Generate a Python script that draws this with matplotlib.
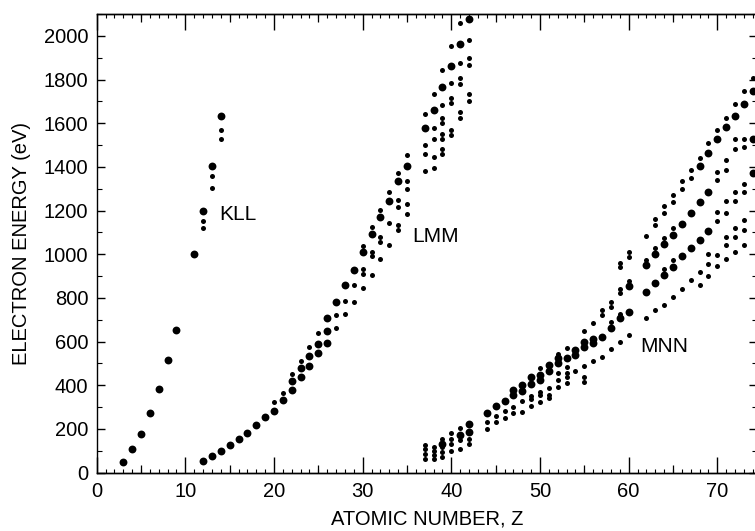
import matplotlib
matplotlib.use("Agg")
import matplotlib.pyplot as plt
from matplotlib.ticker import MultipleLocator

plt.rcParams['font.family'] = ['Liberation Sans', 'DejaVu Sans']

# KLL transitions
kll_big_z = [3, 4, 5, 6, 7, 8, 9, 11, 12, 13, 14]
kll_big_e = [49, 107, 177, 273, 384, 517, 653, 1000, 1198, 1405, 1631]
kll_small_z = [12, 12, 13, 13, 14, 14]
kll_small_e = [1151, 1119, 1357, 1304, 1571, 1530]

# LMM transitions
lmm_big_z = [12, 13, 14, 15, 16, 17, 18, 19, 20, 21,
             22, 22, 23, 23, 24, 24, 25, 25, 26, 26, 26,
             27, 28, 29, 30, 31, 32, 33, 34, 35, 37, 38, 39, 40, 41, 42]
lmm_big_e = [53, 76, 98, 128, 153, 183, 217, 255, 284, 334,
             378, 420, 440, 481, 488, 534, 546, 588, 595, 650, 709,
             780, 858, 926, 1009, 1093, 1172, 1245, 1334, 1405, 1576, 1660, 1765, 1863, 1962, 2076]
lmm_small_z = [20, 21, 22, 23, 24, 25,
               27, 27, 28, 28, 29, 29,
               30, 30, 30, 30, 31, 31, 31, 31, 32, 32, 32, 32,
               33, 33, 33, 34, 34, 34, 34, 34, 35, 35, 35, 35, 35,
               37, 37, 37, 37, 38, 38, 38, 38, 38,
               39, 39, 39, 39, 39, 39, 39, 39,
               40, 40, 40, 40, 40, 40, 41, 41, 41, 41, 41, 41,
               42, 42, 42, 42, 42]
lmm_small_e = [322, 366, 451, 511, 577, 639,
               722, 662, 784, 726, 858, 781,
               1038, 934, 910, 845, 1124, 1010, 991, 907, 1201, 1078, 1058, 979,
               1285, 1144, 1044, 1372, 1249, 1216, 1132, 1109, 1453, 1334, 1300, 1228, 1184,
               1642, 1500, 1457, 1380, 1732, 1579, 1530, 1446, 1393,
               1842, 1683, 1622, 1599, 1553, 1530, 1481, 1460,
               1953, 1785, 1716, 1691, 1568, 1545, 2057, 1878, 1808, 1782, 1652, 1625,
               1983, 1901, 1866, 1733, 1704]

# MNN transitions
mnn_big_z = [39, 41, 42, 42, 44, 45, 46, 47, 47, 48, 48, 49, 49, 50, 50, 51, 51,
             52, 52, 53, 54, 54, 55, 55, 56, 56, 57, 58, 59, 60, 60,
             62, 62, 63, 63, 64, 64, 65, 65, 66, 66, 67, 67,
             68, 68, 68, 69, 69, 69, 70, 71, 72, 73, 74, 74, 74]
mnn_big_e = [130, 173, 223, 188, 272, 307, 330, 379, 356, 401, 374, 437, 406, 447, 424, 493, 465,
             523, 500, 523, 562, 539, 600, 577, 610, 595, 622, 664, 706, 854, 737,
             950, 826, 1001, 867, 1045, 905, 1088, 943, 1138, 992, 1187, 1027,
             1404, 1240, 1065, 1462, 1286, 1108, 1527, 1581, 1632, 1690, 1747, 1526, 1370]
mnn_small_z = [37, 37, 37, 37, 38, 38, 38, 38, 39, 39, 39, 39, 40, 40, 40, 40,
               41, 41, 41, 42, 42, 44, 44, 45, 45, 46, 46, 47, 47, 48, 48,
               49, 49, 49, 50, 50, 50, 50, 51, 51, 51,
               52, 52, 52, 52, 53, 53, 53, 53, 53, 54,
               55, 55, 55, 55, 56, 56, 57, 57, 57, 58, 58, 58, 58,
               59, 59, 59, 59, 59, 59, 60, 60, 60, 60,
               62, 62, 62, 63, 63, 63, 63, 64, 64, 64, 64, 64,
               65, 65, 65, 65, 65, 66, 66, 66, 67, 67, 67, 68, 68, 68,
               69, 69, 69, 69, 70, 70, 70, 70, 70, 70, 70,
               71, 71, 71, 71, 71, 71, 71, 71,
               72, 72, 72, 72, 72, 72, 72, 72,
               73, 73, 73, 73, 73, 73, 73, 73, 74]
mnn_small_e = [125, 106, 86, 64, 116, 101, 81, 63, 154, 116, 96, 73, 183, 154, 130, 101,
               203, 150, 107, 154, 130, 233, 200, 260, 231, 282, 249, 302, 272, 330, 279,
               351, 336, 305, 481, 368, 354, 325, 386, 356, 340,
               543, 455, 424, 394, 569, 485, 455, 439, 410, 467,
               650, 488, 439, 417, 687, 513, 745, 722, 531, 783, 760, 691, 565,
               961, 943, 839, 823, 726, 600, 1011, 989, 879, 630,
               1085, 973, 709, 1160, 1134, 1027, 745, 1221, 1187, 1073, 931, 768,
               1271, 1240, 1118, 973, 803, 1336, 1297, 839, 1385, 1347, 882, 1442, 920, 859,
               1510, 1000, 955, 900, 1568, 1378, 1340, 1195, 1153, 996, 947,
               1626, 1431, 1385, 1245, 1187, 1080, 1042, 977,
               1690, 1526, 1480, 1286, 1245, 1118, 1080, 1011,
               1748, 1526, 1489, 1324, 1283, 1157, 1111, 1042, 1805]

big_size = 32
small_size = 13

fig = plt.figure(figsize=(7.55, 5.31), dpi=100)
# right edge sits just past the figure border, as in the reference
ax = fig.add_axes([0.128, 0.11, 0.875, 0.8635])

for zs, es in [(kll_big_z, kll_big_e), (lmm_big_z, lmm_big_e), (mnn_big_z, mnn_big_e)]:
    ax.scatter(zs, es, s=big_size, c='black', linewidths=0)
for zs, es in [(kll_small_z, kll_small_e), (lmm_small_z, lmm_small_e), (mnn_small_z, mnn_small_e)]:
    ax.scatter(zs, es, s=small_size, c='black', linewidths=0)

ax.text(13.8, 1184, 'KLL', fontsize=15, va='center', ha='left')
ax.text(35.6, 1080, 'LMM', fontsize=15, va='center', ha='left')
ax.text(61.3, 577, 'MNN', fontsize=15, va='center', ha='left')

ax.set_xlim(0, 74.5)
ax.set_ylim(0, 2100)

ax.xaxis.set_major_locator(MultipleLocator(10))
ax.xaxis.set_minor_locator(MultipleLocator(1))
ax.yaxis.set_major_locator(MultipleLocator(200))
ax.yaxis.set_minor_locator(MultipleLocator(100))

ax.tick_params(axis='x', which='major', direction='in', length=11.5, width=1,
               top=True, labelsize=14.5, pad=7)
ax.tick_params(axis='x', which='minor', direction='in', length=3.2, width=0.8, top=True)
ax.tick_params(axis='y', which='major', direction='in', length=5.8, width=1,
               right=True, labelsize=14.5, pad=6)
ax.tick_params(axis='y', which='minor', direction='in', length=3.6, width=0.8, right=True)

# medium ticks at the fives
for side in ['bottom', 'top']:
    sec = ax.secondary_xaxis(side)
    sec.set_xticks([5, 15, 25, 35, 45, 55, 65])
    sec.tick_params(direction='in', length=5.8, width=0.9, labelbottom=False, labeltop=False)
    sec.spines[side].set_linewidth(1)

for sp in ax.spines.values():
    sp.set_linewidth(1)

ax.set_xlabel('ATOMIC NUMBER, Z', fontsize=14.5, labelpad=6)
ax.set_ylabel('ELECTRON ENERGY (eV)', fontsize=14.5, labelpad=9)

fig.savefig('out.png', dpi=100)
